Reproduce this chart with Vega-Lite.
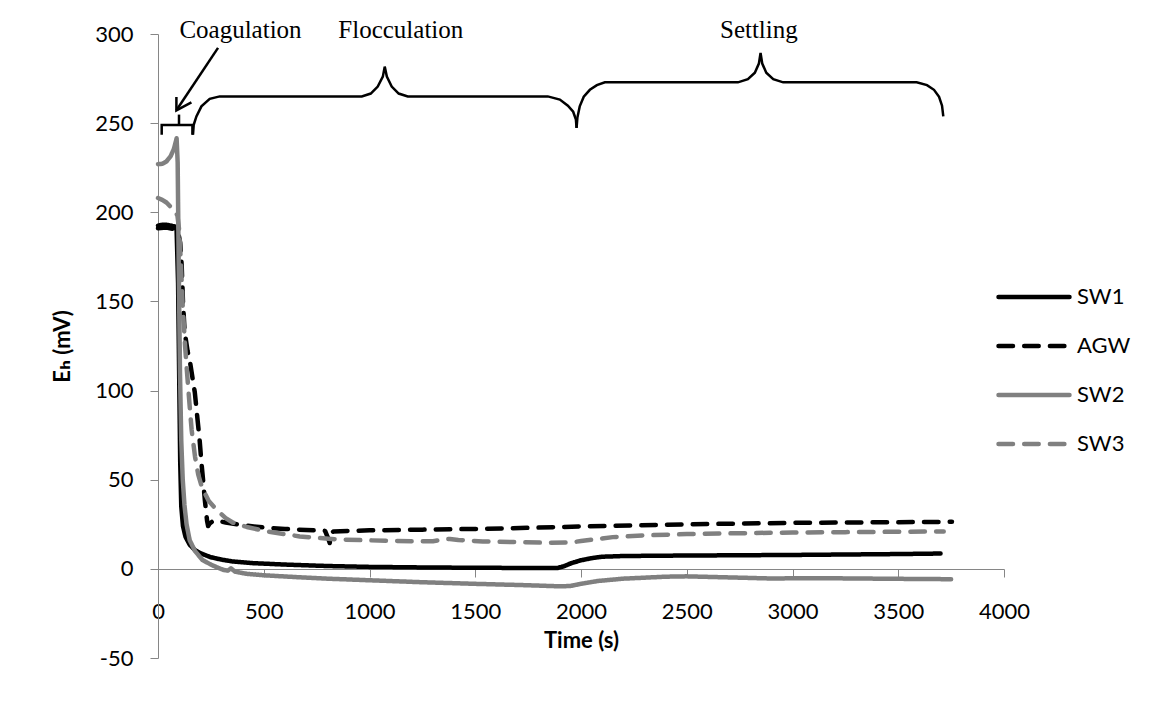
{
  "$schema": "https://vega.github.io/schema/vega-lite/v6.json",
  "width": 846,
  "height": 624,
  "autosize": "none",
  "padding": {"left": 158, "top": 34, "right": 149, "bottom": 69},
  "background": "white",
  "config": {"view": {"stroke": null}, "font": "Lato"},
  "datasets": {
    "curves": [
      {"series":"SW1","t":0,"eh":192.5},{"series":"SW1","t":20,"eh":193},{"series":"SW1","t":40,"eh":193},{"series":"SW1","t":60,"eh":192.5},{"series":"SW1","t":80,"eh":192},{"series":"SW1","t":88,"eh":190},{"series":"SW1","t":95,"eh":160},{"series":"SW1","t":100,"eh":110},{"series":"SW1","t":105,"eh":60},{"series":"SW1","t":110,"eh":35},{"series":"SW1","t":118,"eh":24},{"series":"SW1","t":130,"eh":18},{"series":"SW1","t":150,"eh":13.5},{"series":"SW1","t":175,"eh":10.5},{"series":"SW1","t":200,"eh":8.8},{"series":"SW1","t":250,"eh":6.5},{"series":"SW1","t":300,"eh":5.2},{"series":"SW1","t":350,"eh":4.2},{"series":"SW1","t":450,"eh":3.2},{"series":"SW1","t":600,"eh":2.4},{"series":"SW1","t":800,"eh":1.6},{"series":"SW1","t":1000,"eh":1.1},{"series":"SW1","t":1250,"eh":0.8},{"series":"SW1","t":1500,"eh":0.6},{"series":"SW1","t":1750,"eh":0.5},{"series":"SW1","t":1890,"eh":0.5},{"series":"SW1","t":1920,"eh":1.5},{"series":"SW1","t":1950,"eh":3},{"series":"SW1","t":2000,"eh":4.8},{"series":"SW1","t":2050,"eh":6},{"series":"SW1","t":2100,"eh":6.8},{"series":"SW1","t":2200,"eh":7.2},{"series":"SW1","t":2400,"eh":7.4},{"series":"SW1","t":2700,"eh":7.6},{"series":"SW1","t":3000,"eh":7.8},{"series":"SW1","t":3300,"eh":8.1},{"series":"SW1","t":3500,"eh":8.3},{"series":"SW1","t":3700,"eh":8.6},

      {"series":"AGW","t":0,"eh":191},{"series":"AGW","t":40,"eh":191.5},{"series":"AGW","t":80,"eh":190.5},{"series":"AGW","t":95,"eh":189},{"series":"AGW","t":105,"eh":183},{"series":"AGW","t":112,"eh":170},{"series":"AGW","t":118,"eh":150},{"series":"AGW","t":126,"eh":133},{"series":"AGW","t":140,"eh":122},{"series":"AGW","t":150,"eh":117},{"series":"AGW","t":162,"eh":108},{"series":"AGW","t":174,"eh":99},{"series":"AGW","t":185,"eh":86},{"series":"AGW","t":197,"eh":72},{"series":"AGW","t":205,"eh":60},{"series":"AGW","t":213,"eh":50},{"series":"AGW","t":222,"eh":38},{"series":"AGW","t":232,"eh":27},{"series":"AGW","t":237,"eh":24},{"series":"AGW","t":245,"eh":25.5},{"series":"AGW","t":260,"eh":26.8},{"series":"AGW","t":280,"eh":27},{"series":"AGW","t":320,"eh":26},{"series":"AGW","t":400,"eh":24.5},{"series":"AGW","t":500,"eh":23.2},{"series":"AGW","t":600,"eh":22.4},{"series":"AGW","t":700,"eh":21.8},{"series":"AGW","t":790,"eh":21.3},{"series":"AGW","t":805,"eh":17},{"series":"AGW","t":812,"eh":14.5},{"series":"AGW","t":818,"eh":20},{"series":"AGW","t":830,"eh":21},{"series":"AGW","t":1000,"eh":21.6},{"series":"AGW","t":1250,"eh":22},{"series":"AGW","t":1500,"eh":22.4},{"series":"AGW","t":1750,"eh":23},{"series":"AGW","t":2000,"eh":23.8},{"series":"AGW","t":2250,"eh":24.4},{"series":"AGW","t":2500,"eh":25},{"series":"AGW","t":2750,"eh":25.4},{"series":"AGW","t":3000,"eh":25.8},{"series":"AGW","t":3250,"eh":26},{"series":"AGW","t":3500,"eh":26.2},{"series":"AGW","t":3754,"eh":26.4},

      {"series":"SW2","t":0,"eh":227},{"series":"SW2","t":20,"eh":227.2},{"series":"SW2","t":40,"eh":228.5},{"series":"SW2","t":60,"eh":231.5},{"series":"SW2","t":75,"eh":235.5},{"series":"SW2","t":84,"eh":239.5},{"series":"SW2","t":88,"eh":241.5},{"series":"SW2","t":93,"eh":228},{"series":"SW2","t":98,"eh":170},{"series":"SW2","t":104,"eh":110},{"series":"SW2","t":110,"eh":72},{"series":"SW2","t":117,"eh":50},{"series":"SW2","t":125,"eh":36},{"series":"SW2","t":135,"eh":25},{"series":"SW2","t":150,"eh":16},{"series":"SW2","t":175,"eh":10},{"series":"SW2","t":210,"eh":5},{"series":"SW2","t":250,"eh":2.4},{"series":"SW2","t":280,"eh":0.8},{"series":"SW2","t":310,"eh":-0.6},{"series":"SW2","t":330,"eh":-1},{"series":"SW2","t":345,"eh":0.3},{"series":"SW2","t":365,"eh":-1.6},{"series":"SW2","t":420,"eh":-2.8},{"series":"SW2","t":500,"eh":-3.6},{"series":"SW2","t":650,"eh":-4.6},{"series":"SW2","t":800,"eh":-5.5},{"series":"SW2","t":1000,"eh":-6.4},{"series":"SW2","t":1250,"eh":-7.5},{"series":"SW2","t":1500,"eh":-8.4},{"series":"SW2","t":1750,"eh":-9.2},{"series":"SW2","t":1900,"eh":-9.8},{"series":"SW2","t":1950,"eh":-9.6},{"series":"SW2","t":2000,"eh":-8.4},{"series":"SW2","t":2080,"eh":-6.8},{"series":"SW2","t":2200,"eh":-5.5},{"series":"SW2","t":2400,"eh":-4.4},{"series":"SW2","t":2500,"eh":-4.2},{"series":"SW2","t":2700,"eh":-4.8},{"series":"SW2","t":2900,"eh":-5.4},{"series":"SW2","t":3100,"eh":-5.2},{"series":"SW2","t":3300,"eh":-5.4},{"series":"SW2","t":3500,"eh":-5.6},{"series":"SW2","t":3750,"eh":-5.8},

      {"series":"SW3","t":0,"eh":208},{"series":"SW3","t":20,"eh":207},{"series":"SW3","t":40,"eh":205.5},{"series":"SW3","t":60,"eh":203},{"series":"SW3","t":80,"eh":201},{"series":"SW3","t":92,"eh":198},{"series":"SW3","t":100,"eh":190},{"series":"SW3","t":108,"eh":172},{"series":"SW3","t":117,"eh":147},{"series":"SW3","t":128,"eh":125},{"series":"SW3","t":140,"eh":106},{"series":"SW3","t":150,"eh":91},{"series":"SW3","t":159,"eh":78},{"series":"SW3","t":175,"eh":63},{"series":"SW3","t":190,"eh":53},{"series":"SW3","t":207,"eh":46},{"series":"SW3","t":240,"eh":38},{"series":"SW3","t":278,"eh":33},{"series":"SW3","t":320,"eh":28.5},{"series":"SW3","t":353,"eh":26},{"series":"SW3","t":420,"eh":23.5},{"series":"SW3","t":513,"eh":21},{"series":"SW3","t":670,"eh":18.2},{"series":"SW3","t":860,"eh":16.4},{"series":"SW3","t":1000,"eh":16},{"series":"SW3","t":1222,"eh":15.4},{"series":"SW3","t":1300,"eh":15.5},{"series":"SW3","t":1350,"eh":16.5},{"series":"SW3","t":1380,"eh":16.8},{"series":"SW3","t":1420,"eh":16.2},{"series":"SW3","t":1536,"eh":15.4},{"series":"SW3","t":1700,"eh":15},{"series":"SW3","t":1853,"eh":14.6},{"series":"SW3","t":1950,"eh":14.8},{"series":"SW3","t":2000,"eh":15.6},{"series":"SW3","t":2056,"eh":16.4},{"series":"SW3","t":2150,"eh":17.8},{"series":"SW3","t":2300,"eh":18.8},{"series":"SW3","t":2500,"eh":19.5},{"series":"SW3","t":2750,"eh":20},{"series":"SW3","t":3000,"eh":20.4},{"series":"SW3","t":3250,"eh":20.6},{"series":"SW3","t":3500,"eh":20.8},{"series":"SW3","t":3715,"eh":21}
    ],
    "ann": [
      {"seg":"coag","i":0,"t":17.5,"eh":243.5},{"seg":"coag","i":1,"t":17.5,"eh":248.9},{"seg":"coag","i":2,"t":162.7,"eh":248.9},{"seg":"coag","i":3,"t":162.7,"eh":243.5},
      {"seg":"coagtick","i":0,"t":99.3,"eh":248.9},{"seg":"coagtick","i":1,"t":99.3,"eh":254.8},
      {"seg":"arrow","i":0,"t":283.8,"eh":292.2},{"seg":"arrow","i":1,"t":87,"eh":257.2},
      {"seg":"head","i":0,"t":87,"eh":264.6},{"seg":"head","i":1,"t":87,"eh":257.2},{"seg":"head","i":2,"t":158,"eh":261.7},
      {"seg":"floc","i":0,"t":165.5,"eh":243.5},{"seg":"floc","i":1,"t":168.9,"eh":249.1},{"seg":"floc","i":2,"t":181.6,"eh":253.8},{"seg":"floc","i":3,"t":205.3,"eh":259.4},{"seg":"floc","i":4,"t":244.5,"eh":263.6},{"seg":"floc","i":5,"t":291.8,"eh":265},{"seg":"floc","i":6,"t":963.5,"eh":265},{"seg":"floc","i":7,"t":1006,"eh":266.6},{"seg":"floc","i":8,"t":1039,"eh":270.5},{"seg":"floc","i":9,"t":1063,"eh":276.1},{"seg":"floc","i":10,"t":1072,"eh":281.7},{"seg":"floc","i":11,"t":1082,"eh":276.1},{"seg":"floc","i":12,"t":1105,"eh":270.5},{"seg":"floc","i":13,"t":1138,"eh":266.6},{"seg":"floc","i":14,"t":1181,"eh":265},{"seg":"floc","i":15,"t":1843,"eh":265},{"seg":"floc","i":16,"t":1900,"eh":263.2},{"seg":"floc","i":17,"t":1938,"eh":259.8},{"seg":"floc","i":18,"t":1963,"eh":256.4},{"seg":"floc","i":19,"t":1976,"eh":252},{"seg":"floc","i":20,"t":1979,"eh":247.3},
      {"seg":"settle","i":0,"t":1979,"eh":247.3},{"seg":"settle","i":1,"t":1983,"eh":253.1},{"seg":"settle","i":2,"t":1994,"eh":259.4},{"seg":"settle","i":3,"t":2013,"eh":264.8},{"seg":"settle","i":4,"t":2042,"eh":268.7},{"seg":"settle","i":5,"t":2075,"eh":271.3},{"seg":"settle","i":6,"t":2113,"eh":272.9},{"seg":"settle","i":7,"t":2742,"eh":272.9},{"seg":"settle","i":8,"t":2789,"eh":274.7},{"seg":"settle","i":9,"t":2822,"eh":278.3},{"seg":"settle","i":10,"t":2841,"eh":283.4},{"seg":"settle","i":11,"t":2849,"eh":289.4},{"seg":"settle","i":12,"t":2857,"eh":283.4},{"seg":"settle","i":13,"t":2876,"eh":278.3},{"seg":"settle","i":14,"t":2909,"eh":274.7},{"seg":"settle","i":15,"t":2956,"eh":272.9},{"seg":"settle","i":16,"t":3587,"eh":272.9},{"seg":"settle","i":17,"t":3636,"eh":271.3},{"seg":"settle","i":18,"t":3669,"eh":268.7},{"seg":"settle","i":19,"t":3693,"eh":264.8},{"seg":"settle","i":20,"t":3707,"eh":259.8},{"seg":"settle","i":21,"t":3713,"eh":253.8}
    ],
    "labels": [
      {"label":"Coagulation","t":390,"eh":302},
      {"label":"Flocculation","t":1148,"eh":302},
      {"label":"Settling","t":2841,"eh":302}
    ]
  },
  "encoding": {
    "x": {
      "field": "t", "type": "quantitative",
      "scale": {"domain": [0, 4000], "nice": false, "zero": false},
      "axis": {
        "title": "Time (s)", "values": [0,500,1000,1500,2000,2500,3000,3500,4000],
        "labelExpr": "'' + datum.value",
        "offset": -89, "grid": false,
        "domainColor": "#868686", "tickColor": "#868686", "tickSize": 8,
        "labelFont": "Lato", "labelFontSize": 22, "labelColor": "black", "labelPadding": 24,
        "labelFlush": false, "labelOverlap": false,
        "titleFont": "Lato", "titleFontSize": 22, "titleFontWeight": "bold", "titleColor": "black", "titlePadding": 8
      }
    },
    "y": {
      "field": "eh", "type": "quantitative",
      "scale": {"domain": [-50, 300], "nice": false, "zero": false},
      "axis": {
        "title": "Eₕ (mV)", "values": [-50,0,50,100,150,200,250,300], "grid": false,
        "labelExpr": "'' + datum.value",
        "domainColor": "#868686", "tickColor": "#868686", "tickSize": 8,
        "labelFont": "Lato", "labelFontSize": 22, "labelColor": "black", "labelPadding": 17,
        "titleFont": "Lato, DejaVu Sans", "titleFontSize": 22, "titleFontWeight": "bold", "titleColor": "black", "titlePadding": 20
      }
    }
  },
  "layer": [
    {
      "data": {"name": "ann"},
      "mark": {"type": "line", "color": "black", "strokeWidth": 2.5, "clip": false},
      "encoding": {
        "detail": {"field": "seg"},
        "order": {"field": "i", "type": "quantitative"}
      }
    },
    {
      "data": {"name": "curves"},
      "mark": {"type": "line", "strokeWidth": 4.5, "strokeCap": "round", "strokeJoin": "round"},
      "encoding": {
        "color": {
          "field": "series", "type": "nominal",
          "scale": {"domain": ["SW1","AGW","SW2","SW3"], "range": ["#000000","#000000","#808080","#808080"]},
          "legend": {
            "title": null, "orient": "none", "legendX": 838, "legendY": 225,
            "symbolType": "stroke", "symbolSize": 5041, "symbolStrokeWidth": 4.5,
            "labelFont": "Lato", "labelFontSize": 22, "labelColor": "black", "labelOffset": 5,
            "rowPadding": -23, "padding": 0,
            "encode": {"symbols": {"update": {"strokeCap": {"value": "round"}}}}
          }
        },
        "strokeDash": {
          "field": "series", "type": "nominal",
          "scale": {"domain": ["SW1","AGW","SW2","SW3"], "range": [[1,0],[14.5,11.2],[1,0],[14.5,11.2]]},
          "legend": {
            "title": null, "orient": "none", "legendX": 838, "legendY": 225,
            "symbolType": "stroke", "symbolSize": 5041, "symbolStrokeWidth": 4.5,
            "labelFont": "Lato", "labelFontSize": 22, "labelColor": "black", "labelOffset": 5,
            "rowPadding": -23, "padding": 0,
            "encode": {"symbols": {"update": {"strokeCap": {"value": "round"}}}}
          }
        },
        "order": {"field": "t", "type": "quantitative"}
      }
    },
    {
      "data": {"name": "labels"},
      "mark": {"type": "text", "font": "Liberation Serif", "fontSize": 25, "color": "black", "baseline": "middle", "align": "center", "clip": false},
      "encoding": {
        "text": {"field": "label"}
      }
    }
  ]
}
